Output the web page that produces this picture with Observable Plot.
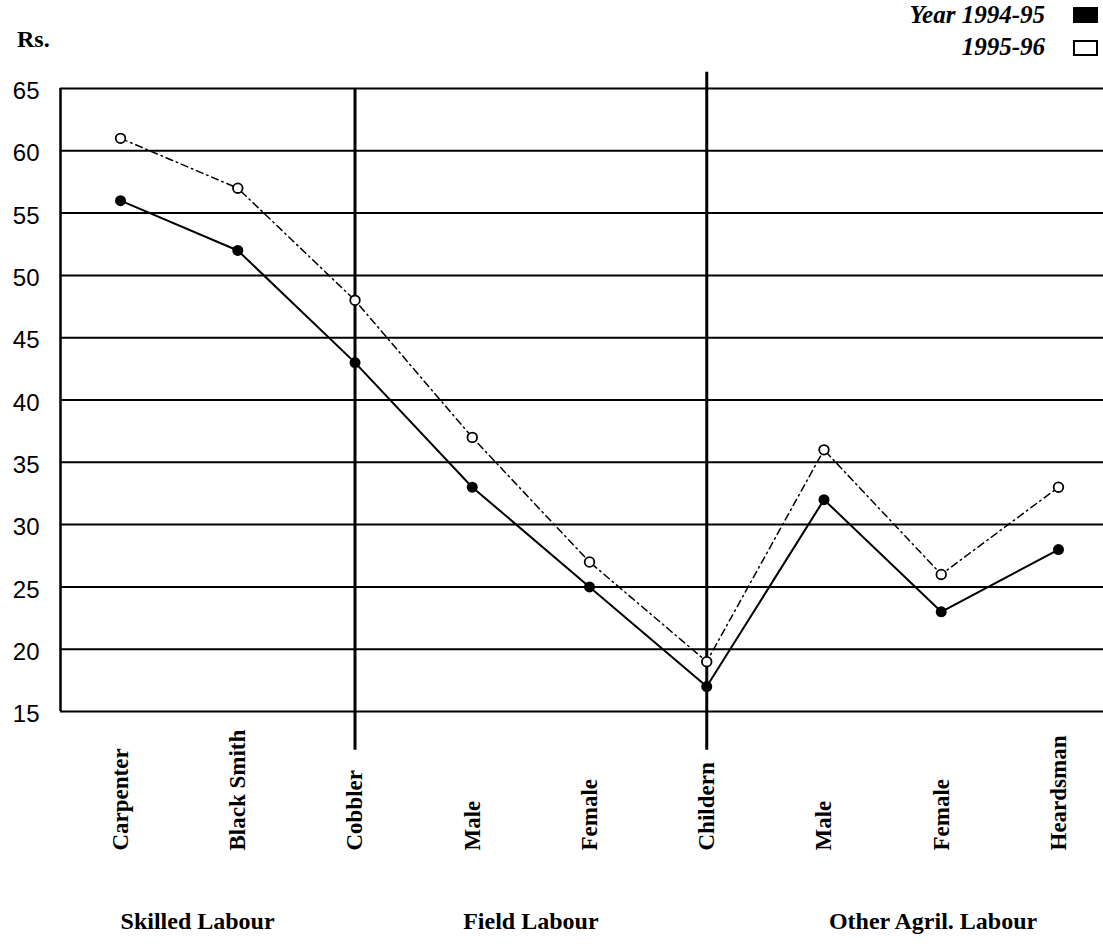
<!DOCTYPE html>
<html>
<head>
<meta charset="utf-8">
<script src="https://cdn.jsdelivr.net/npm/d3@7"></script>
<script src="https://cdn.jsdelivr.net/npm/@observablehq/plot@0.6"></script>
<style>
  html, body { margin: 0; padding: 0; background: #fff; }
  #wrap { position: relative; width: 1103px; color: #000; }
  #hdr { position: relative; width: 1103px; height: 60px; }
  .serif { font-family: "Liberation Serif", "DejaVu Serif", serif; font-weight: bold; }
  .lg { position: absolute; font-style: italic; font-size: 25px; line-height: 25px; text-align: right; right: 58px; }
  .sw { position: absolute; left: 1073px; width: 25px; height: 16px; box-sizing: border-box; border: 2px solid #000; }
</style>
</head>
<body>
<div id="wrap">
  <div id="hdr">
    <span class="serif" style="position:absolute;left:17px;top:26px;font-size:24px;line-height:26px;">Rs.</span>
    <span class="serif lg" id="lg1" style="top:2px;"></span>
    <div class="sw" style="top:7px;background:#000;"></div>
    <span class="serif lg" id="lg2" style="top:34px;"></span>
    <div class="sw" style="top:40px;background:#fff;"></div>
  </div>
  <div id="chart"></div>
</div>
<script>
// ---- data ----
const categories = ["Carpenter", "Black Smith", "Cobbler", "Male", "Female", "Childern", "Male", "Female", "Heardsman"];
const year9495 = [56, 52, 43, 33, 25, 17, 32, 23, 28];
const year9596 = [61, 57, 48, 37, 27, 19, 36, 26, 33];
const seriesNames = ["Year 1994-95", "1995-96"];
const yTicks = [15, 20, 25, 30, 35, 40, 45, 50, 55, 60, 65];
const dividerIndex = [2, 5];          // Cobbler, Childern
const dividerTop = [65, 66.3];
const dividerBottom = [11.9, 11.9];
const groups = ["Skilled Labour", "Field Labour", "Other Agril. Labour"];
const groupAnchorIndex = [0, 3.5, 6.93];
const groupTextAnchor = ["start", "middle", "middle"];

document.getElementById("lg1").textContent = seriesNames[0];
document.getElementById("lg2").textContent = seriesNames[1];

const xDomain = [-0.512, 8.384];
const rows = categories.map((c, i) => ({i, c, a: year9495[i], b: year9596[i]}));
const dividers = dividerIndex.map((d, k) => ({i: d, top: dividerTop[k], bottom: dividerBottom[k]}));
const groupRows = groups.map((g, k) => ({g, x: groupAnchorIndex[k], anchor: groupTextAnchor[k]}));

const serif = "Liberation Serif, DejaVu Serif, serif";
const sans = "Liberation Sans, Arial, sans-serif";

const chart = Plot.plot({
  width: 1103,
  height: 890,
  marginLeft: 60,
  marginRight: 0,
  marginTop: 28,
  marginBottom: 239,
  style: {background: "white", color: "black", overflow: "visible"},
  x: {type: "linear", domain: xDomain, axis: null},
  y: {domain: [15, 65]},
  marks: [
    Plot.ruleY(yTicks, {stroke: "black", strokeWidth: 2}),
    Plot.ruleX([xDomain[0]], {y1: 15, y2: 65, stroke: "black", strokeWidth: 2.5}),
    Plot.ruleX(dividers, {x: "i", y1: "top", y2: "bottom", stroke: "black", strokeWidth: 3}),
    Plot.line(rows, {x: "i", y: "b", stroke: "black", strokeWidth: 1.5, strokeDasharray: "7,4,1.5,4"}),
    Plot.line(rows, {x: "i", y: "a", stroke: "black", strokeWidth: 2}),
    Plot.dot(rows, {x: "i", y: "b", r: 4.8, stroke: "black", strokeWidth: 1.8, fill: "white"}),
    Plot.dot(rows, {x: "i", y: "a", r: 5.5, fill: "black", stroke: "none"}),
    Plot.axisY(yTicks, {tickSize: 0, tickPadding: 21, fontSize: 24, fontFamily: sans, label: null, dy: 3}),
    Plot.text(rows, {x: "i", text: "c", frameAnchor: "bottom", dy: 139, rotate: -90, textAnchor: "start",
      lineAnchor: "middle", fontSize: 23, fontWeight: "bold", fontFamily: serif, fill: "black"}),
    Plot.text(groupRows, {x: "x", text: "g", textAnchor: "start", frameAnchor: "bottom", dy: 217,
      fontSize: 24, fontWeight: "bold", fontFamily: serif, fill: "black",
      filter: d => d.anchor === "start"}),
    Plot.text(groupRows, {x: "x", text: "g", textAnchor: "middle", frameAnchor: "bottom", dy: 217,
      fontSize: 24, fontWeight: "bold", fontFamily: serif, fill: "black",
      filter: d => d.anchor === "middle"})
  ]
});
document.getElementById("chart").appendChild(chart);
</script>
</body>
</html>
